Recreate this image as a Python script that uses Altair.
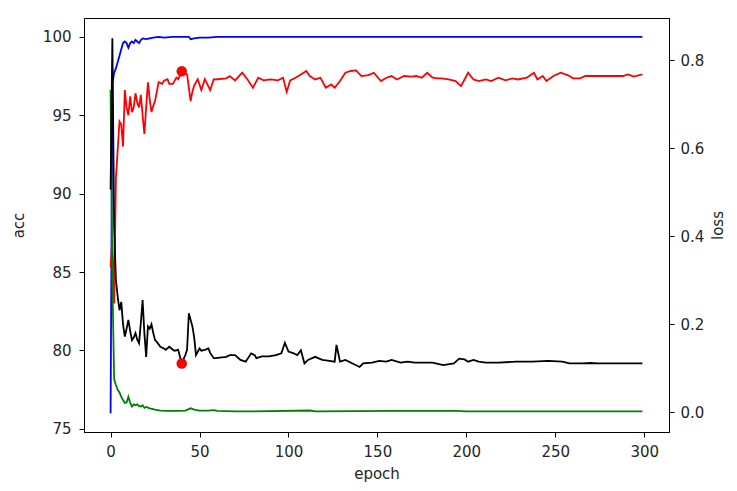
import altair as alt
import pandas as pd

# ---- train accuracy (blue, left axis) ----
train_acc_epoch = [0, 1, 2, 3, 4, 5, 6, 7, 8, 9, 10, 11, 12, 13, 14, 15, 16, 17, 18, 20, 22, 24, 27, 30,
                   35, 44, 45, 47, 50, 55, 60, 100, 150, 200, 250, 299]
train_acc = [76.0, 97.0, 97.7, 98.0, 98.4, 98.8, 99.2, 99.6, 99.7, 99.6, 99.3, 99.6, 99.7, 99.6, 99.8,
             99.7, 99.6, 99.8, 99.9, 99.85, 99.9, 99.95, 100.0, 99.95, 100.0, 100.0, 99.85, 99.9,
             99.95, 99.95, 100.0, 100.0, 100.0, 100.0, 100.0, 100.0]

# ---- validation accuracy (red, left axis) ----
val_acc_epoch = [0, 1, 2, 3, 4, 5, 6, 7, 8, 9, 10, 11, 12, 13, 14, 15, 16, 17, 18, 19, 20, 21, 22, 23,
                 24, 25, 26, 27, 29, 30, 32, 33, 35, 37, 38, 40, 41, 43, 45, 46, 47, 49, 51, 53, 56,
                 58, 59, 65, 67, 70, 74, 77, 80, 83, 86, 90, 94, 97, 99, 101, 104, 107, 110, 112,
                 115, 118, 121, 124, 126, 129, 132, 135, 138, 141, 145, 148, 152, 155, 158, 161,
                 165, 169, 172, 175, 178, 181, 184, 186, 190, 194, 197, 199, 201, 204, 207, 211,
                 214, 218, 222, 226, 229, 234, 238, 240, 243, 245, 249, 253, 257, 260, 264, 267,
                 271, 274, 284, 288, 291, 294, 299]
val_acc = [85.3, 87.0, 83.0, 91.0, 92.8, 94.6, 94.4, 93.0, 96.6, 95.5, 95.0, 96.2, 95.2, 95.5, 96.4,
           95.8, 95.5, 96.3, 95.0, 93.8, 95.5, 97.1, 96.0, 95.2, 95.6, 95.9, 96.5, 97.1, 97.0, 97.2,
           97.3, 97.0, 97.0, 97.4, 97.3, 97.8, 97.7, 97.6, 95.9, 96.5, 96.9, 97.3, 96.6, 97.3, 96.6,
           97.3, 97.28, 97.35, 97.5, 97.22, 97.71, 97.28, 96.75, 97.39, 97.22, 97.28, 97.22, 97.39,
           96.49, 97.22, 97.39, 97.6, 97.82, 97.5, 97.28, 97.39, 96.75, 96.96, 96.75, 97.18, 97.71,
           97.82, 97.86, 97.5, 97.56, 97.71, 97.18, 97.39, 97.5, 97.28, 97.5, 97.46, 97.5, 97.39,
           97.71, 97.39, 97.35, 97.35, 97.28, 97.18, 96.86, 97.28, 97.71, 97.28, 97.18, 97.28,
           97.18, 97.39, 97.22, 97.35, 97.28, 97.39, 97.71, 97.28, 97.5, 97.18, 97.5, 97.71, 97.56,
           97.35, 97.35, 97.5, 97.5, 97.5, 97.5, 97.5, 97.6, 97.46, 97.6]

# ---- train loss (green, right axis) ----
train_loss_epoch = [0, 1, 2, 3, 4, 5, 6, 7, 8, 9, 10, 11, 12, 13, 14, 15, 16, 17, 18, 19, 20, 22, 25,
                    28, 32, 38, 42, 45, 47, 50, 55, 58, 60, 70, 80, 112, 115, 160, 195, 200, 250, 299]
train_loss = [0.733, 0.30, 0.075, 0.062, 0.051, 0.045, 0.035, 0.028, 0.021, 0.022, 0.035, 0.022,
              0.013, 0.018, 0.016, 0.018, 0.014, 0.013, 0.016, 0.010, 0.012, 0.009, 0.006, 0.004,
              0.003, 0.003, 0.004, 0.009, 0.006, 0.004, 0.004, 0.005, 0.003, 0.002, 0.002, 0.004,
              0.002, 0.003, 0.003, 0.002, 0.002, 0.002]

# ---- validation loss (black, right axis) ----
val_loss_epoch = [0, 1, 2, 3, 4, 5, 6, 7, 8, 9, 10, 11, 12, 13, 14, 15, 16, 17, 18, 19, 20, 21, 22,
                  23, 24, 25, 26, 28, 30, 31, 33, 35, 36, 38, 40, 42, 43, 44, 45, 46, 47, 48, 50,
                  51, 53, 55, 56, 58, 59, 65, 67, 70, 73, 76, 79, 81, 82, 85, 89, 93, 96, 98, 100,
                  103, 105, 107, 109, 111, 115, 119, 123, 126, 127, 129, 132, 136, 140, 142, 147,
                  151, 155, 158, 163, 167, 171, 175, 181, 187, 193, 196, 199, 201, 204, 207, 211,
                  218, 228, 237, 246, 254, 258, 265, 270, 274, 284, 299]
val_loss = [0.506, 0.85, 0.42, 0.30, 0.263, 0.232, 0.251, 0.20, 0.172, 0.19, 0.21, 0.185, 0.164,
            0.17, 0.18, 0.165, 0.157, 0.203, 0.255, 0.18, 0.126, 0.195, 0.19, 0.20, 0.18, 0.164,
            0.16, 0.149, 0.145, 0.142, 0.149, 0.142, 0.14, 0.142, 0.111, 0.13, 0.142, 0.225, 0.21,
            0.195, 0.17, 0.13, 0.145, 0.14, 0.142, 0.145, 0.135, 0.123, 0.123, 0.126, 0.130, 0.130,
            0.119, 0.115, 0.134, 0.130, 0.123, 0.127, 0.127, 0.130, 0.134, 0.158, 0.138, 0.134,
            0.130, 0.141, 0.111, 0.119, 0.126, 0.119, 0.117, 0.115, 0.153, 0.115, 0.119, 0.111,
            0.103, 0.111, 0.113, 0.117, 0.115, 0.119, 0.113, 0.115, 0.113, 0.113, 0.113, 0.107,
            0.111, 0.122, 0.120, 0.115, 0.119, 0.115, 0.113, 0.113, 0.115, 0.115, 0.117, 0.115,
            0.111, 0.111, 0.112, 0.111, 0.111, 0.111]

# ---- best epoch markers ----
best_epoch = [40]
best_acc = [97.8]
best_loss = [0.111]

x_ticks = [0, 50, 100, 150, 200, 250, 300]
acc_ticks = [75, 80, 85, 90, 95, 100]
loss_ticks = [0.0, 0.2, 0.4, 0.6, 0.8]

xscale = alt.Scale(domain=[-14.95, 313.95], nice=False, zero=False)
acc_scale = alt.Scale(domain=[74.8, 101.2], nice=False, zero=False)
loss_scale = alt.Scale(domain=[-0.0448, 0.896], nice=False, zero=False)

xaxis = alt.Axis(title="epoch", values=x_ticks, format="d", grid=False, labelPadding=7,
                 titlePadding=7)
acc_axis = alt.Axis(title="acc", values=acc_ticks, format="d", orient="left", grid=False,
                    labelPadding=8, titlePadding=16)
loss_axis = alt.Axis(title="loss", values=loss_ticks, format=".1f", orient="right", grid=False,
                     labelPadding=6, titleAngle=270, titleBaseline="top", titlePadding=7)


def line(ep, vals, field, color, yscale, yaxis):
    df = pd.DataFrame({"epoch": ep, field: vals})
    return alt.Chart(df).mark_line(color=color, strokeWidth=1.8, clip=True).encode(
        x=alt.X("epoch:Q", scale=xscale, axis=xaxis),
        y=alt.Y(f"{field}:Q", scale=yscale, axis=yaxis),
    )


def dot(ep, vals, field, yscale, yaxis):
    df = pd.DataFrame({"epoch": ep, field: vals})
    return alt.Chart(df).mark_circle(color="red", size=110, opacity=1).encode(
        x=alt.X("epoch:Q", scale=xscale, axis=xaxis),
        y=alt.Y(f"{field}:Q", scale=yscale, axis=yaxis),
    )


left = alt.layer(
    line(train_acc_epoch, train_acc, "acc", "blue", acc_scale, acc_axis),
    line(val_acc_epoch, val_acc, "acc", "red", acc_scale, acc_axis),
    dot(best_epoch, best_acc, "acc", acc_scale, acc_axis),
)
right = alt.layer(
    line(train_loss_epoch, train_loss, "loss", "green", loss_scale, loss_axis),
    line(val_loss_epoch, val_loss, "loss", "black", loss_scale, loss_axis),
    dot(best_epoch, best_loss, "loss", loss_scale, loss_axis),
)

chart = alt.layer(left, right).resolve_scale(y="independent").properties(
    width=585,
    height=414,
    background="white",
    autosize=alt.AutoSizeParams(type="none"),
    padding={"left": 76, "top": 10, "right": 60, "bottom": 51},
).configure_view(
    stroke="black", strokeWidth=1
).configure_axis(
    grid=False,
    domainColor="black",
    domainWidth=1,
    tickColor="black",
    tickSize=5,
    labelColor="#262626",
    titleColor="#262626",
    labelFont="DejaVu Sans",
    titleFont="DejaVu Sans",
    labelFontSize=15,
    titleFontSize=15,
    titleFontWeight="normal",
)

chart.save("out.html", embed_options={"renderer": "svg", "actions": False})
